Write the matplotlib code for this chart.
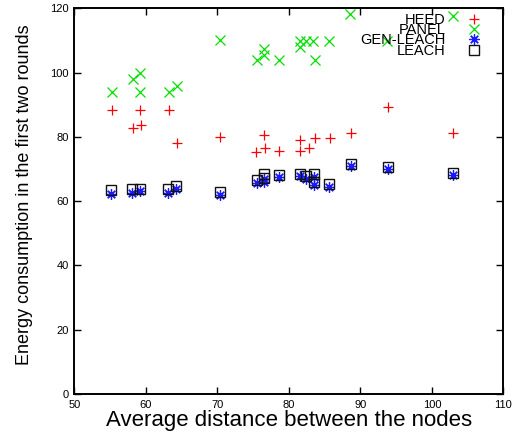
import matplotlib
matplotlib.use("Agg")
import matplotlib.pyplot as plt

plt.rcParams['font.family'] = ['Liberation Sans', 'DejaVu Sans']

# HEED
heed_x = [55.2, 58.2, 59.2, 59.3, 63.3, 64.3, 70.4, 75.4, 76.5, 76.6, 78.6, 81.5, 81.5, 82.8, 83.7, 85.7, 88.7, 93.8, 102.9]
heed_y = [88.3, 82.9, 88.3, 83.6, 88.3, 78.1, 79.8, 75.3, 80.7, 76.4, 75.6, 79.0, 75.6, 76.4, 79.7, 79.7, 81.3, 89.3, 81.3]
# PANEL
panel_x = [55.2, 58.2, 59.2, 59.2, 63.3, 64.3, 70.4, 75.5, 76.5, 76.5, 78.6, 81.6, 81.6, 82.4, 83.4, 83.6, 85.6, 88.6, 93.7, 103.0]
panel_y = [94.0, 97.9, 100.0, 94.0, 94.0, 95.9, 110.0, 103.8, 107.4, 105.4, 103.8, 108.0, 109.9, 109.9, 109.9, 103.8, 109.9, 118.1, 109.9, 117.5]
# GEN-LEACH
gen_x = [55.1, 58.1, 59.2, 63.1, 64.2, 70.3, 75.5, 76.5, 76.5, 78.6, 81.6, 82.4, 83.5, 83.5, 85.6, 88.7, 93.8, 102.9]
gen_y = [62.2, 62.6, 63.2, 62.6, 63.9, 61.9, 65.7, 67.0, 66.0, 67.5, 67.8, 67.0, 67.6, 65.0, 64.3, 71.0, 69.9, 68.1]
# LEACH
leach_x = [55.1, 58.1, 59.2, 63.1, 64.2, 70.3, 75.5, 76.5, 76.5, 78.6, 81.6, 82.4, 83.5, 83.5, 85.6, 88.7, 93.8, 102.9]
leach_y = [63.4, 63.9, 63.9, 63.9, 64.7, 62.9, 66.5, 68.4, 67.2, 68.1, 68.6, 67.8, 68.6, 66.0, 65.2, 71.7, 70.7, 68.8]

x_ticks = [50, 60, 70, 80, 90, 100, 110]
y_ticks = [0, 20, 40, 60, 80, 100, 120]

fig = plt.figure(figsize=(5.31, 4.34), dpi=100)
ax = fig.add_axes([0.140, 0.092, 0.808, 0.889])

ax.plot(heed_x, heed_y, linestyle='none', marker='+', markersize=7.5, markeredgewidth=0.9,
        color='#ff0000', label='HEED')
ax.plot(panel_x, panel_y, linestyle='none', marker='x', markersize=7.5, markeredgewidth=0.9,
        color='#00e000', label='PANEL')
ax.plot(gen_x, gen_y, linestyle='none', marker=(8, 2, 0), markersize=7.5, markeredgewidth=0.9,
        color='#1a1aff', label='GEN-LEACH')
ax.plot(leach_x, leach_y, linestyle='none', marker='s', markersize=7.5, markeredgewidth=1.0,
        markerfacecolor='none', markeredgecolor='#111111', label='LEACH')

ax.set_xlim(50, 110)
ax.set_ylim(0, 120)
ax.set_xticks(x_ticks)
ax.set_yticks(y_ticks)
ax.tick_params(direction='in', top=True, right=True, length=5, width=1.0, labelsize=8, pad=4)
for s in ax.spines.values():
    s.set_linewidth(1.4)

ax.set_xlabel('Average distance between the nodes', fontsize=16, labelpad=0.5)
ax.set_ylabel('Energy consumption in the first two rounds', fontsize=13)
ax.yaxis.set_label_coords(-0.097, 0.516)

leg = ax.legend(loc='upper right', bbox_to_anchor=(0.953, 0.988), frameon=False,
                markerfirst=False, fontsize=10.5, labelspacing=-0.255, handlelength=1.2,
                handletextpad=1.4, borderpad=0, borderaxespad=0)

fig.savefig('out.png', dpi=100)
